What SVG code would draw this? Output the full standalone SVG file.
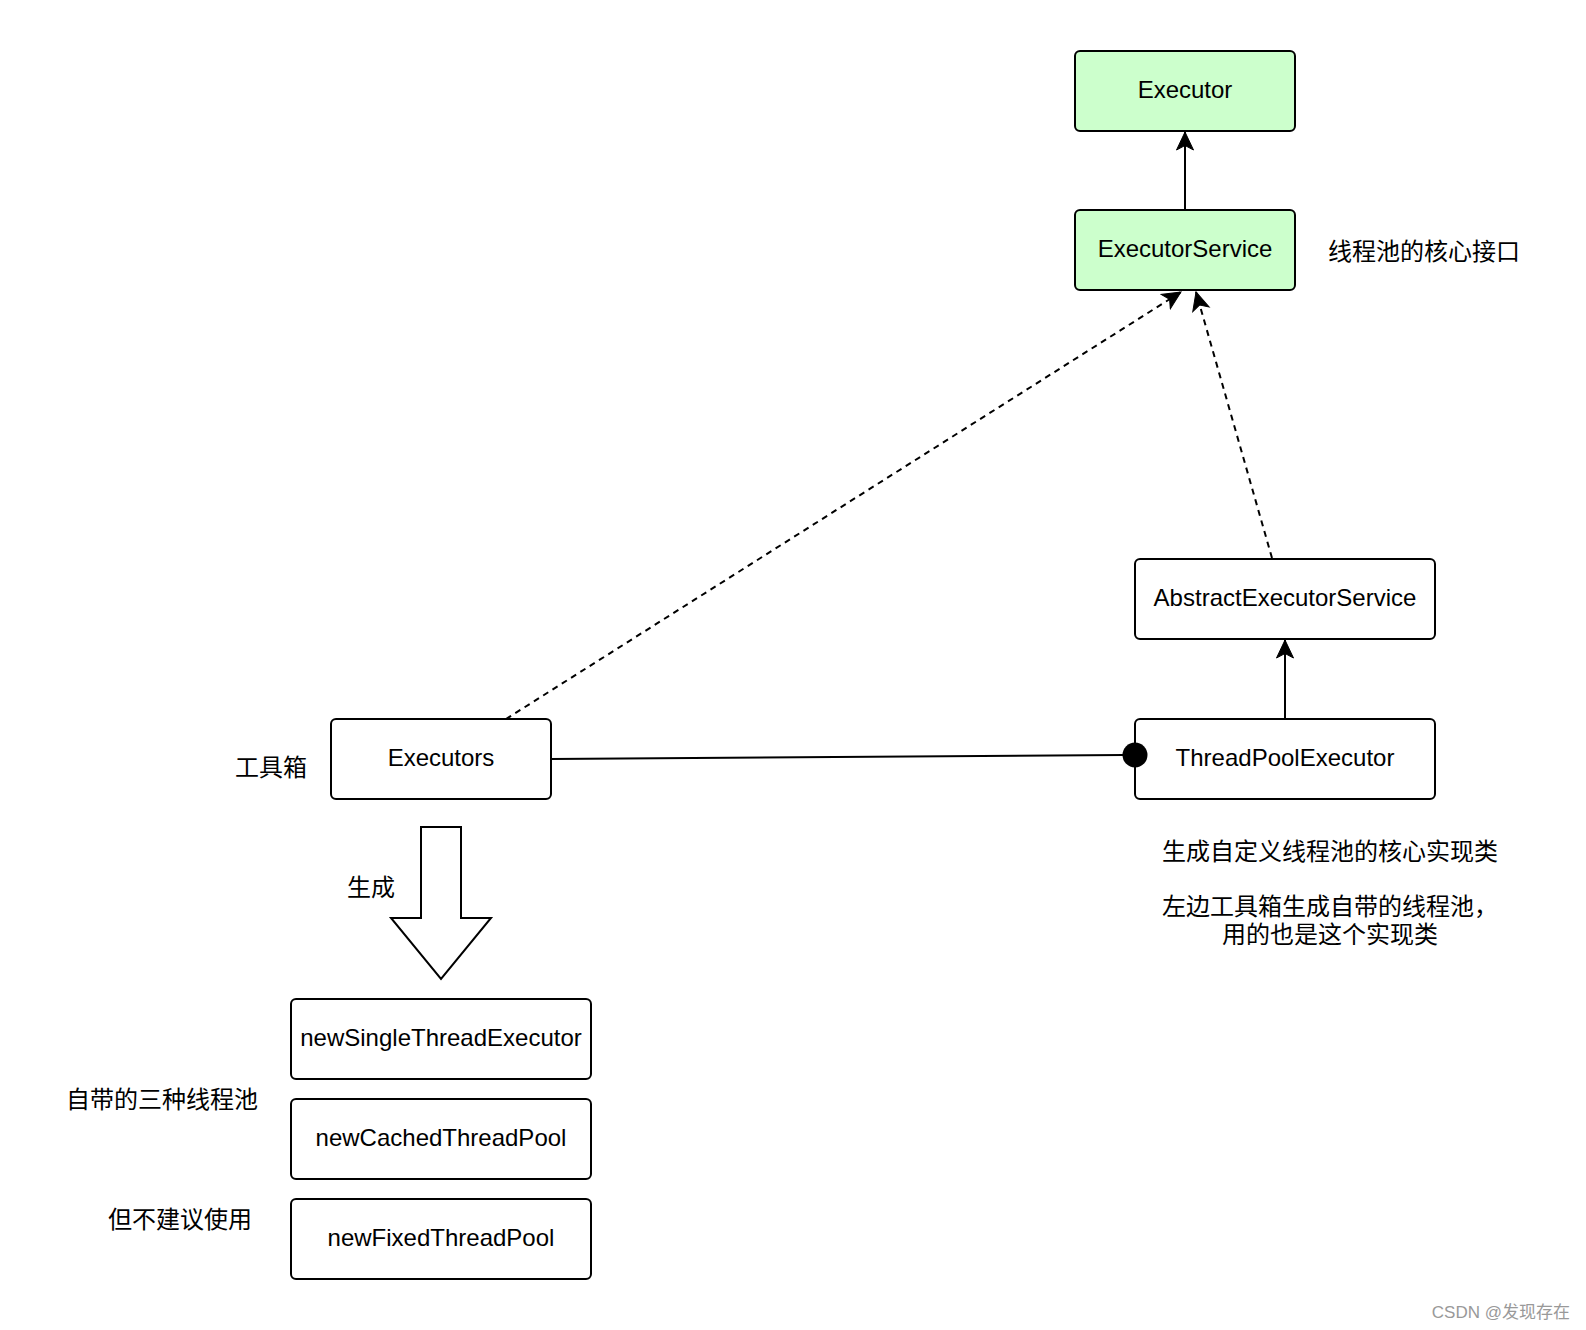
<svg xmlns="http://www.w3.org/2000/svg" width="1586" height="1330" viewBox="0 0 1586 1330">
<style>
.box{fill:#ffffff;stroke:#000000;stroke-width:2}
.green{fill:#ccffcc}
.lbl{font-family:"Liberation Sans","Noto Sans CJK SC",sans-serif;font-size:24px;fill:#000000}
.cjk{font-family:"Liberation Sans","Noto Sans CJK SC",sans-serif;font-size:24px;fill:#000000}
.edge{fill:none;stroke:#000000;stroke-width:2}
.dash{stroke-dasharray:6 5}
</style>
<defs>
<marker id="arr" markerUnits="userSpaceOnUse" viewBox="-19 -10 20 20" refX="0" refY="0" markerWidth="20" markerHeight="20" orient="auto">
<path d="M0,0 L-18,-8.5 L-13.5,0 L-18,8.5 Z" fill="#000000" stroke="#000000" stroke-width="1"/>
</marker>
</defs>
<rect width="1586" height="1330" fill="#ffffff"/>
<g id="executor">
<rect class="box green" x="1075" y="51" width="220" height="80" rx="5"/>
<text class="lbl" x="1185" y="89.5" text-anchor="middle" dominant-baseline="central">Executor</text>
</g>
<g id="executorService">
<rect class="box green" x="1075" y="210" width="220" height="80" rx="5"/>
<text class="lbl" x="1185" y="248.5" text-anchor="middle" dominant-baseline="central">ExecutorService</text>
</g>
<g id="executorServiceNote">
<text class="cjk" x="1328" y="251" dominant-baseline="central">线程池的核心接口</text>
</g>
<g id="abstractExecutorService">
<rect class="box" x="1135" y="559" width="300" height="80" rx="5"/>
<text class="lbl" x="1285" y="597.5" text-anchor="middle" dominant-baseline="central">AbstractExecutorService</text>
</g>
<g id="threadPoolExecutor">
<rect class="box" x="1135" y="719" width="300" height="80" rx="5"/>
<text class="lbl" x="1285" y="757.5" text-anchor="middle" dominant-baseline="central">ThreadPoolExecutor</text>
</g>
<g id="threadPoolNote">
<text class="cjk" x="1330" y="851" text-anchor="middle" dominant-baseline="central">生成自定义线程池的核心实现类</text>
<text class="cjk" x="1330" y="906" text-anchor="middle" dominant-baseline="central">左边工具箱生成自带的线程池，</text>
<text class="cjk" x="1330" y="934" text-anchor="middle" dominant-baseline="central">用的也是这个实现类</text>
</g>
<g id="executors">
<rect class="box" x="331" y="719" width="220" height="80" rx="5"/>
<text class="lbl" x="441" y="757.5" text-anchor="middle" dominant-baseline="central">Executors</text>
</g>
<g id="toolboxLabel">
<text class="cjk" x="235" y="767" dominant-baseline="central">工具箱</text>
</g>
<g id="generateArrow">
<path d="M421,827 L461,827 L461,918 L491,918 L441,979 L391,918 L421,918 Z" fill="#ffffff" stroke="#000000" stroke-width="2" stroke-linejoin="miter"/>
<text class="cjk" x="347" y="887" dominant-baseline="central">生成</text>
</g>
<g id="newSingleThreadExecutor">
<rect class="box" x="291" y="999" width="300" height="80" rx="5"/>
<text class="lbl" x="441" y="1037.5" text-anchor="middle" dominant-baseline="central">newSingleThreadExecutor</text>
</g>
<g id="newCachedThreadPool">
<rect class="box" x="291" y="1099" width="300" height="80" rx="5"/>
<text class="lbl" x="441" y="1137.5" text-anchor="middle" dominant-baseline="central">newCachedThreadPool</text>
</g>
<g id="newFixedThreadPool">
<rect class="box" x="291" y="1199" width="300" height="80" rx="5"/>
<text class="lbl" x="441" y="1237.5" text-anchor="middle" dominant-baseline="central">newFixedThreadPool</text>
</g>
<g id="poolsNote">
<text class="cjk" x="66" y="1099" dominant-baseline="central">自带的三种线程池</text>
<text class="cjk" x="108" y="1219" dominant-baseline="central">但不建议使用</text>
</g>
<g id="watermark">
<text x="1570" y="1312" text-anchor="end" dominant-baseline="central" font-family="'Liberation Sans','Noto Sans CJK SC',sans-serif" font-size="17" fill="#999999">CSDN @发现存在</text>
</g>
<g id="connectors">
<line class="edge" x1="1185" y1="210" x2="1185" y2="132" marker-end="url(#arr)"/>
<line class="edge" x1="1285" y1="719" x2="1285" y2="640" marker-end="url(#arr)"/>
<line class="edge dash" x1="506" y1="719" x2="1181" y2="292" marker-end="url(#arr)"/>
<line class="edge dash" x1="1272" y1="558" x2="1196" y2="292" marker-end="url(#arr)"/>
<line class="edge" x1="551" y1="759" x2="1124" y2="755"/>
<circle cx="1135" cy="755" r="12.5" fill="#000000"/>
</g>
</svg>
